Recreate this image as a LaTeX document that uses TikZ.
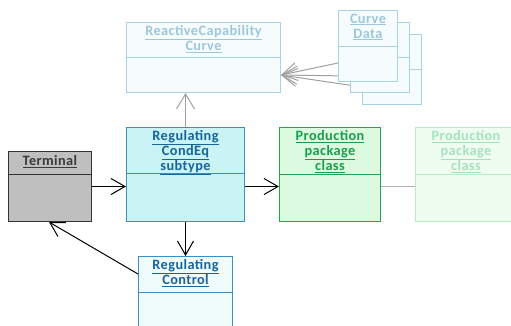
\documentclass[tikz,border=0pt]{standalone}
\usepackage{fontspec}
\newfontfamily\boxfont{Carlito}[LetterSpace=3]
\usetikzlibrary{arrows.meta,calc}
\definecolor{rccFill}{HTML}{F6FBFD}
\definecolor{rccDraw}{HTML}{A9D2E3}
\definecolor{rccText}{HTML}{9DC8DB}
\definecolor{condFill}{HTML}{C9F3F4}
\definecolor{condDraw}{HTML}{3A8FC4}
\definecolor{condText}{HTML}{16669C}
\definecolor{termFill}{HTML}{BFBFBF}
\definecolor{termDraw}{HTML}{333333}
\definecolor{termText}{HTML}{3A3A3A}
\definecolor{prodFill}{HTML}{DBFADF}
\definecolor{prodDraw}{HTML}{1FA64F}
\definecolor{prodText}{HTML}{17A04A}
\definecolor{fprodFill}{HTML}{EFFDF1}
\definecolor{fprodDraw}{HTML}{B5ECC5}
\definecolor{fprodText}{HTML}{A6E2BD}
\definecolor{regcFill}{HTML}{F0FBFC}
\definecolor{grayLine}{HTML}{A0A0A0}
\newcommand{\ulx}[1]{\underline{#1}}
\begin{document}
\begin{tikzpicture}[x=1pt,y=-1pt,
  box/.style={rectangle,draw,line width=1pt,inner sep=0pt,anchor=north west},
  title/.style={anchor=north,align=center,inner sep=0pt,font=\boxfont\bfseries\fontsize{14.3}{15}\selectfont},
  divider/.style={line width=1pt},
  arr/.style={line width=1pt,-{Straight Barb[length=14pt,width=16pt,line width=1pt]}},
  garr/.style={line width=1pt,draw=grayLine,-{Straight Barb[length=15pt,width=18pt,line width=1pt]}}
]
\useasboundingbox (0,0) rectangle (511,325);
% Curve Data stack (back to front, with their connectors)
\node[box,draw=rccDraw,fill=rccFill,minimum width=59pt,minimum height=70pt] (cd3) at (362,34) {};
\node[box,draw=rccDraw,fill=rccFill,minimum width=59pt,minimum height=70pt] (cd2) at (350,22) {};
\node[box,draw=rccDraw,fill=rccFill,minimum width=59pt,minimum height=71pt] (cd1) at (338,10) {};
\node[box,draw=rccDraw,fill=rccFill,minimum width=154pt,minimum height=70pt] (rcc) at (126,22) {};
\coordinate (rccTip) at ($(rcc.north east)+(0,53)$);
\draw[garr] ($(cd3.north west)+(0,53)$) -- (rccTip);
\draw[garr] ($(cd2.north west)+(0,54)$) -- (rccTip);
\node[box,draw=rccDraw,fill=rccFill,minimum width=59pt,minimum height=70pt] at (cd3.north west) {};
\draw[rccDraw,divider] ($(cd3.north west)+(0,35)$) -- ($(cd3.north east)+(0,35)$);
\node[box,draw=rccDraw,fill=rccFill,minimum width=59pt,minimum height=70pt] at (cd2.north west) {};
\draw[rccDraw,divider] ($(cd2.north west)+(0,35)$) -- ($(cd2.north east)+(0,35)$);
\draw[garr] ($(cd1.north west)+(0,53)$) -- (rccTip);
\node[box,draw=rccDraw,fill=rccFill,minimum width=59pt,minimum height=71pt] at (cd1.north west) {};
\draw[rccDraw,divider] ($(cd1.north west)+(0,36)$) -- ($(cd1.north east)+(0,36)$);
\node[title,text=rccText] (cdT) at ($(cd1.north)+(0,3.5)$) {\ulx{Curve}\\\ulx{Data}};
% Reactive capability curve
\draw[rccDraw,divider] ($(rcc.north west)+(0,35)$) -- ($(rcc.north east)+(0,35)$);
\node[title,text=rccText] (rccT) at ($(rcc.north)+(0,3.5)$) {\ulx{ReactiveCapability}\\\ulx{Curve}};
% Terminal
\node[box,draw=termDraw,fill=termFill,minimum width=83pt,minimum height=70pt] (term) at (8,151) {};
\draw[termDraw,divider] ($(term.north west)+(0,23)$) -- ($(term.north east)+(0,23)$);
\node[title,text=termText] (termT) at ($(term.north)+(0,4)$) {\ulx{Terminal}};
% Regulating CondEq
\node[box,draw=condDraw,fill=condFill,minimum width=118pt,minimum height=94pt] (cond) at (126,127) {};
\draw[condDraw,divider] ($(cond.north west)+(0,46)$) -- ($(cond.north east)+(0,46)$);
\node[title,text=condText] (condT) at ($(cond.north)+(0,3.5)$) {\ulx{Regulating}\\\ulx{CondEq}\\\ulx{subtype}};
% Production package class
\node[box,draw=prodDraw,fill=prodFill,minimum width=101pt,minimum height=94pt] (prod) at (279,127) {};
\draw[prodDraw,divider] ($(prod.north west)+(0,47)$) -- ($(prod.north east)+(0,47)$);
\node[title,text=prodText] (prodT) at ($(prod.north)+(0,3.5)$) {\ulx{Production}\\\ulx{package}\\\ulx{class}};
% Faded production
\node[box,draw=fprodDraw,fill=fprodFill,minimum width=101pt,minimum height=94pt] (fprod) at (415,127) {};
\draw[fprodDraw,divider] ($(fprod.north west)+(0,47)$) -- ($(fprod.north east)+(0,47)$);
\node[title,text=fprodText] (fprodT) at ($(fprod.north)+(0,3.5)$) {\ulx{Production}\\\ulx{package}\\\ulx{class}};
% Regulating Control
\node[box,draw=condDraw,fill=regcFill,minimum width=94pt,minimum height=90pt] (regc) at (138,256) {};
\draw[condDraw,divider] ($(regc.north west)+(0,36)$) -- ($(regc.north east)+(0,36)$);
\node[title,text=condText] (regcT) at ($(regc.north)+(0,3.5)$) {\ulx{Regulating}\\\ulx{Control}};
% connectors
\draw[arr] (term.east) -- (term.east -| cond.west);
\draw[arr] ($(cond.east)+(0,12)$) -- ($(prod.west)+(0,12)$);
\draw[arr] (cond.south) -- (regc.north);
\draw[arr] ($(regc.north west)+(0,18)$) -- ($(term.south west)+(41,0)$);
\draw[garr] (cond.north) -- (cond.north |- rcc.south);
\draw[line width=1pt,draw=grayLine!80] ($(prod.east)+(0,12)$) -- ($(fprod.west)+(0,12)$);
\end{tikzpicture}
\end{document}
